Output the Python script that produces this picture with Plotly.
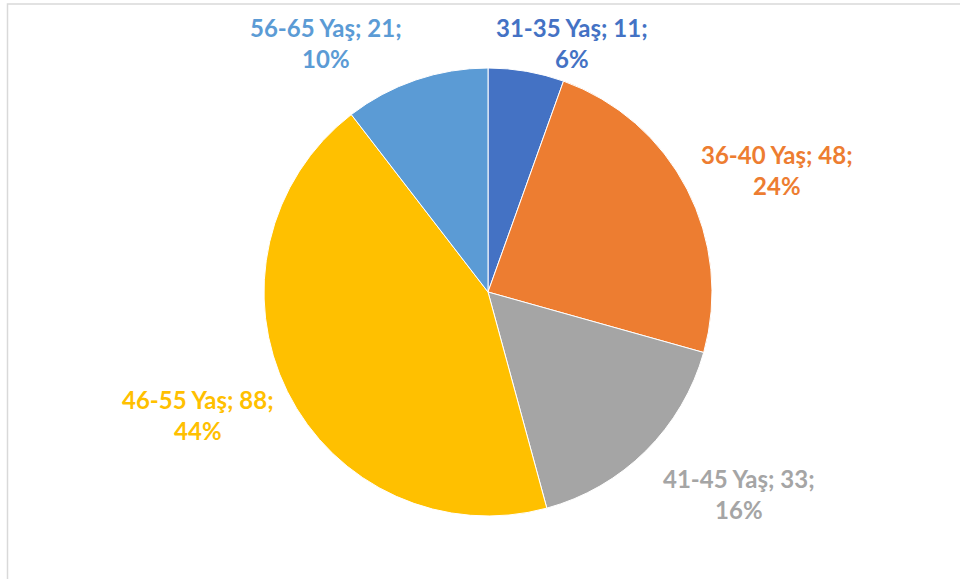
import math
import plotly.graph_objects as go

# age groups and counts
labels = ['31-35 Yaş', '36-40 Yaş', '41-45 Yaş', '46-55 Yaş', '56-65 Yaş']
values = [11, 48, 33, 88, 21]
colors = ['#4472C4', '#ED7D31', '#A5A5A5', '#FFC000', '#5B9BD5']

# label centers in pixels (x, y from top)
label_pos = [(572, 43), (777, 170), (739, 494), (198, 415), (326, 43)]

W, H = 960, 579
total = sum(values)

# percentages rounded so that they add up to 100 (like Excel does)
raw = [v / total * 100 for v in values]
pcts = [math.floor(r) for r in raw]
order = sorted(range(len(raw)), key=lambda i: raw[i] - pcts[i], reverse=True)
for i in order[:100 - sum(pcts)]:
    pcts[i] += 1

fig = go.Figure(go.Pie(
    labels=labels, values=values, sort=False, direction='clockwise', rotation=0,
    marker=dict(colors=colors, line=dict(color='white', width=1)),
    textinfo='none', hoverinfo='label+value+percent',
    domain=dict(x=[264 / W, 712 / W], y=[1 - 516 / H, 1 - 68 / H]),
    showlegend=False,
))

annotations = []
for lab, val, pct, col, (px_, py_) in zip(labels, values, pcts, colors, label_pos):
    annotations.append(dict(
        x=px_ / W, y=1 - py_ / H, xref='paper', yref='paper',
        xanchor='center', yanchor='middle', showarrow=False,
        text=f'<b>{lab}; {val};<br>{pct}%</b>',
        font=dict(family='Lato', size=24, color=col),
    ))

fig.update_layout(
    width=W, height=H,
    margin=dict(l=0, r=0, t=0, b=0),
    paper_bgcolor='white', plot_bgcolor='white',
    annotations=annotations,
    shapes=[dict(type='rect', xref='paper', yref='paper',
                 x0=7.5 / W, x1=1.05, y0=-0.05, y1=1 - 4 / H,
                 line=dict(color='#D9D9D9', width=1.5))],
)

fig.write_html('out.html', config={'displayModeBar': False},
               post_script="document.body.style.margin='0';")
